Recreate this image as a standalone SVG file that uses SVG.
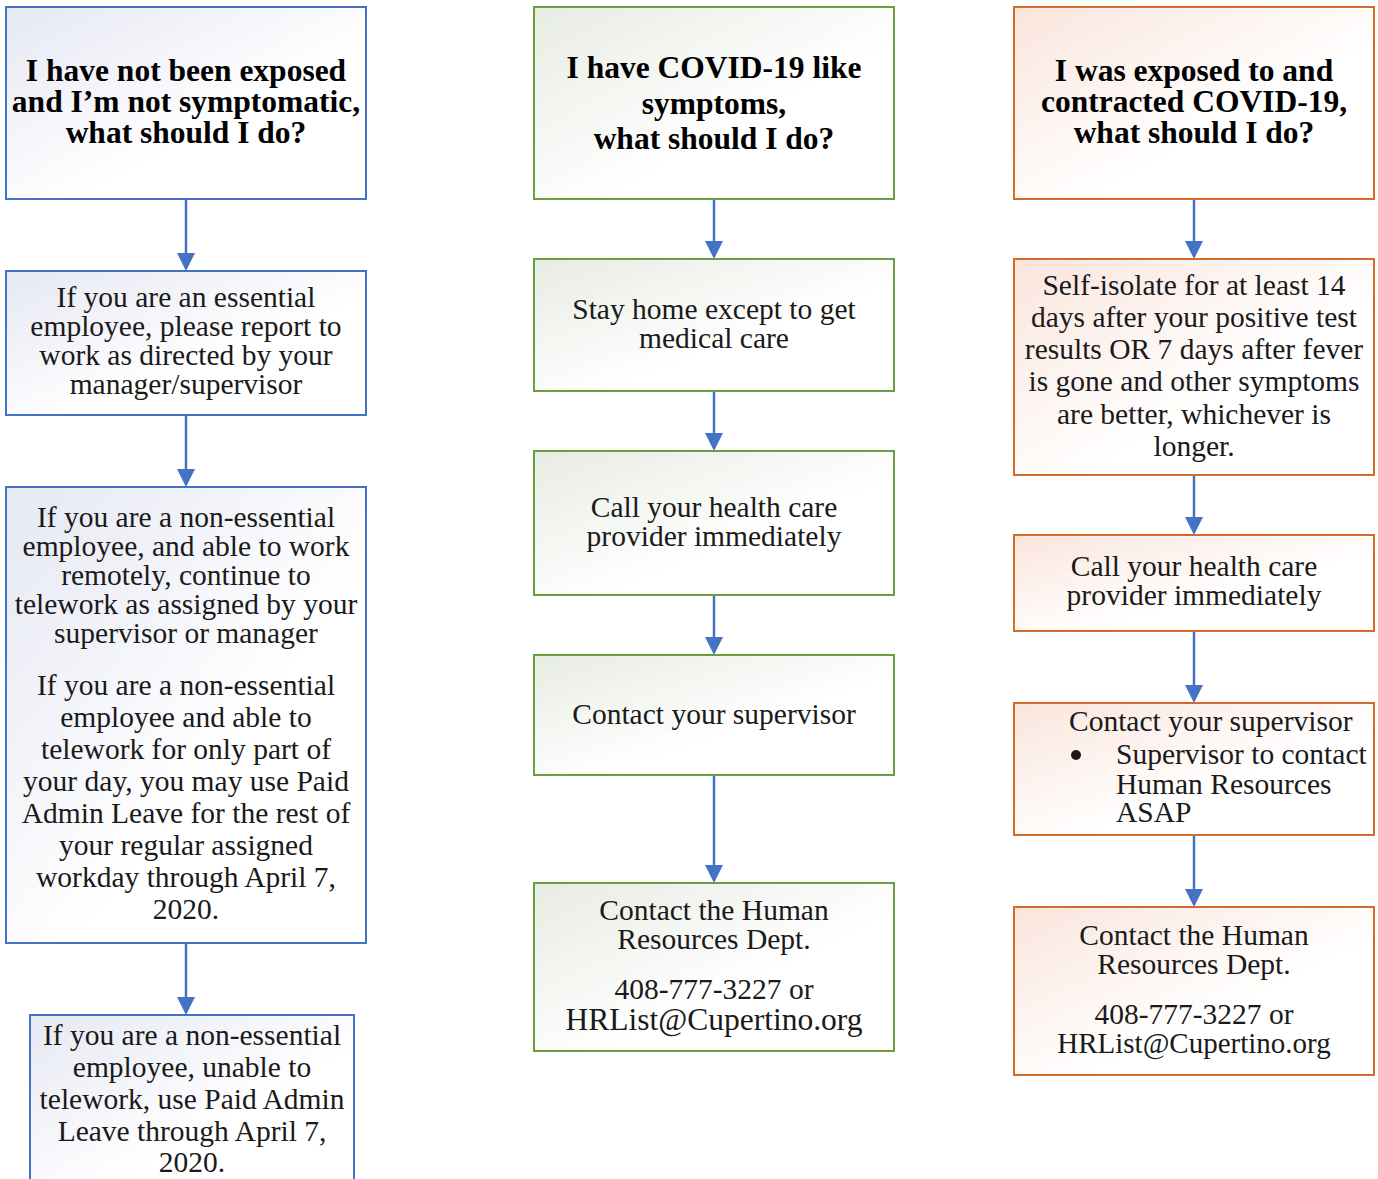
<svg xmlns="http://www.w3.org/2000/svg" width="1378" height="1179" viewBox="0 0 1378 1179">
<defs>
<linearGradient id="gb" x1="0" y1="0" x2="1" y2="1"><stop offset="0" stop-color="#E6E8F3"/><stop offset="0.6" stop-color="#FFFFFF"/></linearGradient>
<linearGradient id="gg" x1="0" y1="0" x2="1" y2="1"><stop offset="0" stop-color="#E7ECE3"/><stop offset="0.6" stop-color="#FFFFFF"/></linearGradient>
<linearGradient id="go" x1="0" y1="0" x2="1" y2="1"><stop offset="0" stop-color="#FAE5DC"/><stop offset="0.6" stop-color="#FFFFFF"/></linearGradient>
<style>
.bb{fill:url(#gb);stroke:#4472C4;stroke-width:2}
.bg{fill:url(#gg);stroke:#6A9E3F;stroke-width:2}
.bo{fill:url(#go);stroke:#D26B2B;stroke-width:2}
.t{font-family:"Liberation Serif","Times New Roman",serif;font-size:29.5px;fill:#1a1a1a;text-anchor:middle}
.h{font-family:"Liberation Serif","Times New Roman",serif;font-size:31.5px;font-weight:bold;fill:#000;text-anchor:middle}
.l{text-anchor:start}
.c{stroke:#4472C4;stroke-width:2.5;fill:none}
.a{fill:#4472C4}
</style>
</defs>

<g id="connectors">
<line class="c" x1="186" y1="199" x2="186" y2="255"/><path class="a" d="M177,253 L195,253 L186,271 Z"/>
<line class="c" x1="186" y1="415" x2="186" y2="471"/><path class="a" d="M177,469 L195,469 L186,487 Z"/>
<line class="c" x1="186" y1="943" x2="186" y2="999"/><path class="a" d="M177,997 L195,997 L186,1015 Z"/>
<line class="c" x1="714" y1="199" x2="714" y2="243"/><path class="a" d="M705,241 L723,241 L714,259 Z"/>
<line class="c" x1="714" y1="391" x2="714" y2="435"/><path class="a" d="M705,433 L723,433 L714,451 Z"/>
<line class="c" x1="714" y1="595" x2="714" y2="639"/><path class="a" d="M705,637 L723,637 L714,655 Z"/>
<line class="c" x1="714" y1="775" x2="714" y2="867"/><path class="a" d="M705,865 L723,865 L714,883 Z"/>
<line class="c" x1="1194" y1="199" x2="1194" y2="243"/><path class="a" d="M1185,241 L1203,241 L1194,259 Z"/>
<line class="c" x1="1194" y1="475" x2="1194" y2="519"/><path class="a" d="M1185,517 L1203,517 L1194,535 Z"/>
<line class="c" x1="1194" y1="631" x2="1194" y2="687"/><path class="a" d="M1185,685 L1203,685 L1194,703 Z"/>
<line class="c" x1="1194" y1="835" x2="1194" y2="891"/><path class="a" d="M1185,889 L1203,889 L1194,907 Z"/>
</g>

<g id="n1">
<rect class="bb" x="6" y="7" width="360" height="192"/>
<text class="h" x="186" y="81">I have not been exposed</text>
<text class="h" x="186" y="112">and I’m not symptomatic,</text>
<text class="h" x="186" y="143">what should I do?</text>
</g>
<g id="n2">
<rect class="bb" x="6" y="271" width="360" height="144"/>
<text class="t" x="186" y="307">If you are an essential</text>
<text class="t" x="186" y="336">employee, please report to</text>
<text class="t" x="186" y="365">work as directed by your</text>
<text class="t" x="186" y="394">manager/supervisor</text>
</g>
<g id="n3">
<rect class="bb" x="6" y="487" width="360" height="456"/>
<text class="t" x="186" y="527">If you are a non-essential</text>
<text class="t" x="186" y="556">employee, and able to work</text>
<text class="t" x="186" y="585">remotely, continue to</text>
<text class="t" x="186" y="614">telework as assigned by your</text>
<text class="t" x="186" y="643">supervisor or manager</text>
<text class="t" x="186" y="695">If you are a non-essential</text>
<text class="t" x="186" y="727">employee and able to</text>
<text class="t" x="186" y="759">telework for only part of</text>
<text class="t" x="186" y="791">your day, you may use Paid</text>
<text class="t" x="186" y="823">Admin Leave for the rest of</text>
<text class="t" x="186" y="855">your regular assigned</text>
<text class="t" x="186" y="887">workday through April 7,</text>
<text class="t" x="186" y="919">2020.</text>
</g>
<g id="n4">
<rect class="bb" x="30" y="1015" width="324" height="180"/>
<text class="t" x="192" y="1045">If you are a non-essential</text>
<text class="t" x="192" y="1077">employee, unable to</text>
<text class="t" x="192" y="1109">telework, use Paid Admin</text>
<text class="t" x="192" y="1141">Leave through April 7,</text>
<text class="t" x="192" y="1172">2020.</text>
</g>

<g id="g1">
<rect class="bg" x="534" y="7" width="360" height="192"/>
<text class="h" x="714" y="78">I have COVID-19 like</text>
<text class="h" x="714" y="114">symptoms,</text>
<text class="h" x="714" y="149">what should I do?</text>
</g>
<g id="g2">
<rect class="bg" x="534" y="259" width="360" height="132"/>
<text class="t" x="714" y="319">Stay home except to get</text>
<text class="t" x="714" y="348">medical care</text>
</g>
<g id="g3">
<rect class="bg" x="534" y="451" width="360" height="144"/>
<text class="t" x="714" y="517">Call your health care</text>
<text class="t" x="714" y="546">provider immediately</text>
</g>
<g id="g4">
<rect class="bg" x="534" y="655" width="360" height="120"/>
<text class="t" x="714" y="724">Contact your supervisor</text>
</g>
<g id="g5">
<rect class="bg" x="534" y="883" width="360" height="168"/>
<text class="t" x="714" y="920">Contact the Human</text>
<text class="t" x="714" y="949">Resources Dept.</text>
<text class="t" x="714" y="999">408-777-3227 or</text>
<text class="t" x="714" y="1030" style="font-size:31.5px">HRList@Cupertino.org</text>
</g>

<g id="o1">
<rect class="bo" x="1014" y="7" width="360" height="192"/>
<text class="h" x="1194" y="81">I was exposed to and</text>
<text class="h" x="1194" y="112">contracted COVID-19,</text>
<text class="h" x="1194" y="143">what should I do?</text>
</g>
<g id="o2">
<rect class="bo" x="1014" y="259" width="360" height="216"/>
<text class="t" x="1194" y="295">Self-isolate for at least 14</text>
<text class="t" x="1194" y="327">days after your positive test</text>
<text class="t" x="1194" y="359">results OR 7 days after fever</text>
<text class="t" x="1194" y="391">is gone and other symptoms</text>
<text class="t" x="1194" y="424">are better, whichever is</text>
<text class="t" x="1194" y="456">longer.</text>
</g>
<g id="o3">
<rect class="bo" x="1014" y="535" width="360" height="96"/>
<text class="t" x="1194" y="576">Call your health care</text>
<text class="t" x="1194" y="605">provider immediately</text>
</g>
<g id="o4">
<rect class="bo" x="1014" y="703" width="360" height="132"/>
<text class="t l" x="1069" y="731">Contact your supervisor</text>
<circle cx="1076" cy="755" r="5" fill="#1a1a1a"/>
<text class="t l" x="1116" y="764">Supervisor to contact</text>
<text class="t l" x="1116" y="794">Human Resources</text>
<text class="t l" x="1116" y="822">ASAP</text>
</g>
<g id="o5">
<rect class="bo" x="1014" y="907" width="360" height="168"/>
<text class="t" x="1194" y="945">Contact the Human</text>
<text class="t" x="1194" y="974">Resources Dept.</text>
<text class="t" x="1194" y="1024">408-777-3227 or</text>
<text class="t" x="1194" y="1053" style="font-size:29px">HRList@Cupertino.org</text>
</g>
</svg>
